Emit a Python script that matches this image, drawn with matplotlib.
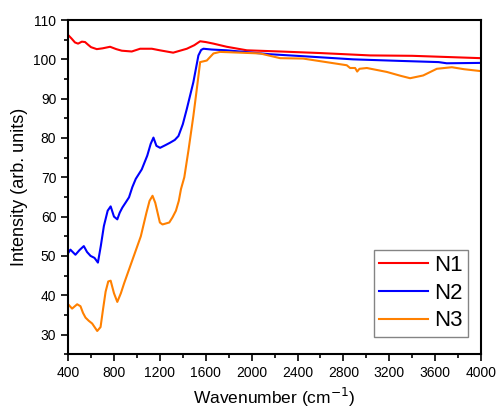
import numpy as np
import matplotlib.pyplot as plt
from matplotlib.ticker import MultipleLocator

plt.rcParams['font.family'] = ['Liberation Sans', 'DejaVu Sans']

# N1 (red)
n1_x = [400, 430, 460, 487, 520, 548, 575, 600, 650, 700, 766, 820, 868, 955, 1028, 1130, 1200,
        1316, 1435, 1500, 1551, 1600, 1667, 1783, 1958, 2248, 2600, 3033, 3400, 3700, 4000]
n1_y = [106.2, 105.3, 104.3, 104.0, 104.5, 104.4, 103.7, 103.1, 102.6, 102.8, 103.2, 102.6,
        102.2, 102.0, 102.7, 102.7, 102.3, 101.7, 102.7, 103.6, 104.6, 104.4, 104.0, 103.2,
        102.3, 102.0, 101.6, 101.0, 100.9, 100.6, 100.3]

# N2 (blue)
n2_x = [400, 420, 440, 464, 500, 537, 565, 596, 630, 660, 685, 712, 745, 771, 800, 829, 850,
        873, 900, 931, 960, 990, 1042, 1090, 1120, 1144, 1170, 1202, 1250, 1289, 1330, 1362,
        1400, 1435, 1492, 1536, 1560, 1580, 1650, 1783, 2161, 2448, 2885, 3300, 3630, 3700, 4000]
n2_y = [50.7, 51.6, 51.0, 50.3, 51.5, 52.5, 51.0, 50.0, 49.5, 48.3, 52.5, 57.6, 61.5, 62.6,
        60.0, 59.3, 61.0, 62.3, 63.5, 64.9, 67.5, 69.6, 72.0, 75.5, 78.5, 80.1, 78.0, 77.5,
        78.2, 78.8, 79.5, 80.5, 83.5, 87.4, 94.2, 101.0, 102.4, 102.7, 102.5, 102.3, 101.3,
        100.8, 100.0, 99.6, 99.3, 99.0, 99.1]

# N3 (orange)
n3_x = [400, 435, 479, 508, 530, 552, 580, 610, 654, 683, 705, 727, 750, 771, 800, 829, 860,
        888, 961, 1034, 1083, 1110, 1136, 1160, 1180, 1200, 1223, 1282, 1310, 1340, 1365, 1384,
        1413, 1450, 1492, 1520, 1551, 1609, 1667, 1725, 2074, 2248, 2449, 2829, 2858, 2902,
        2920, 2940, 3004, 3178, 3300, 3381, 3495, 3614, 3745, 3850, 4000]
n3_y = [37.7, 36.6, 37.7, 37.2, 35.5, 34.3, 33.5, 32.8, 30.9, 31.9, 36.5, 40.9, 43.5, 43.7,
        40.5, 38.3, 40.5, 43.0, 49.0, 55.0, 61.0, 64.0, 65.3, 63.5, 61.0, 58.5, 58.0, 58.5,
        59.8, 61.5, 64.0, 67.0, 70.0, 77.0, 85.6, 92.0, 99.3, 99.7, 101.5, 101.9, 101.5,
        100.3, 100.2, 98.5, 97.8, 97.8, 96.9, 97.6, 97.8, 96.8, 95.8, 95.2, 95.9, 97.6, 98.0,
        97.5, 97.0]

labels = ["N1", "N2", "N3"]
colors = ["#ff0000", "#0000ff", "#ff8000"]

fig = plt.figure(figsize=(4.97, 4.09), dpi=100)
ax = fig.add_axes([0.137, 0.134, 0.831, 0.817])

for xs, ys, lab, c in zip([n1_x, n2_x, n3_x], [n1_y, n2_y, n3_y], labels, colors):
    ax.plot(xs, ys, color=c, lw=1.5, label=lab)

ax.set_xlim(400, 4000)
ax.set_ylim(25, 110)
ax.xaxis.set_major_locator(MultipleLocator(400))
ax.xaxis.set_minor_locator(MultipleLocator(200))
ax.yaxis.set_major_locator(MultipleLocator(10))
ax.yaxis.set_minor_locator(MultipleLocator(5))
ax.set_yticks(range(30, 111, 10))
ax.tick_params(which='major', direction='out', length=5, width=1.2, labelsize=10)
ax.tick_params(which='minor', direction='out', length=3, width=1.2)
for s in ax.spines.values():
    s.set_linewidth(1.5)

ax.set_xlabel("Wavenumber (cm$^{-1}$)", fontsize=12.5)
ax.set_ylabel("Intensity (arb. units)", fontsize=13)

# legend box roughly at x 374-468, y 247-337 px
leg = ax.legend(loc='lower right', bbox_to_anchor=(468 / 497, 1 - 337 / 409),
                bbox_transform=fig.transFigure, fontsize=16, frameon=True, fancybox=False,
                edgecolor='#666666', handlelength=2.2, borderaxespad=0,
                labelspacing=0.3, handletextpad=0.25, borderpad=0.25)
leg.get_frame().set_linewidth(1.0)

fig.savefig("out.png", dpi=100)
